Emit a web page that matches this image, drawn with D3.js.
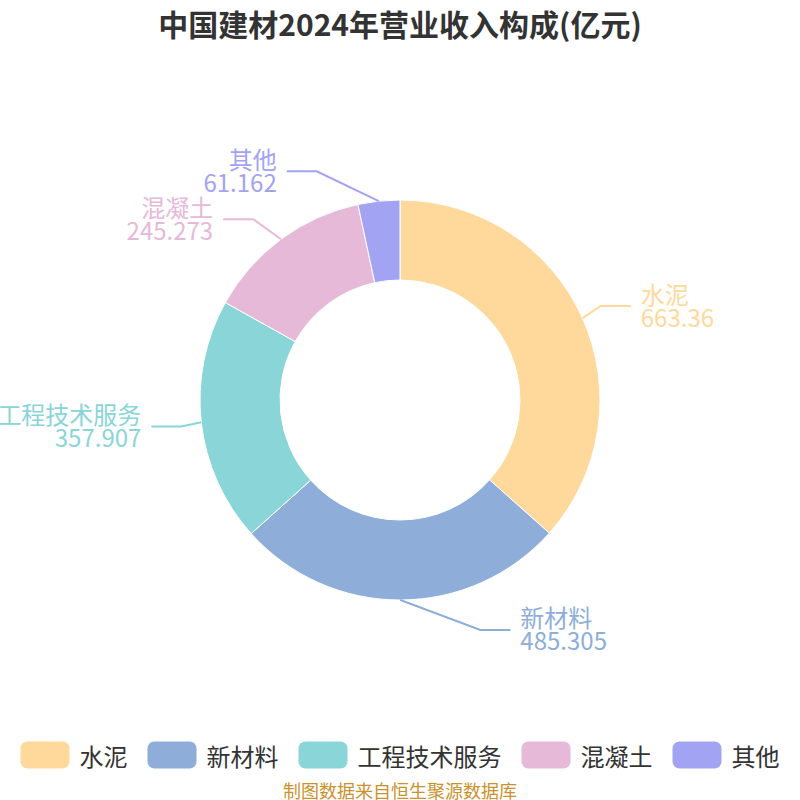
<!DOCTYPE html>
<html lang="zh">
<head>
<meta charset="utf-8">
<style>
  body { margin: 0; background: #fff; }
  svg { font-family: "Noto Sans CJK SC", "Noto Sans", sans-serif; }
  .title { font-size: 30px; font-weight: bold; fill: #333; }
  .legend text { font-size: 24px; fill: #333; }
  .label text { font-size: 24px; }
  .source { font-size: 18px; fill: #c9922c; }
</style>
</head>
<body>
<svg width="800" height="800"></svg>
<script src="https://cdn.jsdelivr.net/npm/d3@7"></script>
<script>
const names = ["水泥", "新材料", "工程技术服务", "混凝土", "其他"]
const values = [663.36, 485.305, 357.907, 245.273, 61.162]
const labels = ["663.36", "485.305", "357.907", "245.273", "61.162"]
const colors = ["#ffd99b", "#8eaed9", "#89d5d8", "#e6b9d8", "#a3a3f4"]
// nudges for the label elbows so they don't collide (px)
const labelShift = [[0, -4], [80, 10], [0, 2], [-16, -4], [-60, -10]]

const width = 800, height = 800
const cx = 400, cy = 400
const outerR = 200, innerR = 120

const svg = d3.select("svg")

svg.append("text")
  .attr("class", "title")
  .attr("x", width / 2)
  .attr("y", 23)
  .attr("text-anchor", "middle")
  .attr("dominant-baseline", "central")
  .text("中国建材2024年营业收入构成(亿元)")

const data = names.map((n, i) => ({ name: n, value: values[i], label: labels[i], color: colors[i], shift: labelShift[i] }))

const pie = d3.pie().sort(null).value(d => d.value)
const arc = d3.arc().innerRadius(innerR).outerRadius(outerR)
const arcs = pie(data)

const g = svg.append("g").attr("transform", `translate(${cx},${cy})`)

g.selectAll("path.slice")
  .data(arcs)
  .join("path")
  .attr("class", "slice")
  .attr("d", arc)
  .attr("fill", d => d.data.color)
  .attr("stroke", "#fff")
  .attr("stroke-width", 1)

// labels with leader lines
const lab = g.selectAll("g.label")
  .data(arcs)
  .join("g")
  .attr("class", "label")

lab.each(function (d) {
  const a = (d.startAngle + d.endAngle) / 2
  const p0 = [outerR * Math.sin(a), -outerR * Math.cos(a)]
  const r1 = outerR + 20
  const p1 = [r1 * Math.sin(a) + d.data.shift[0], -r1 * Math.cos(a) + d.data.shift[1]]
  const side = p1[0] >= 0 ? 1 : -1
  const p2 = [p1[0] + side * 30, p1[1]]
  const sel = d3.select(this)
  sel.append("polyline")
    .attr("points", [p0, p1, p2].map(p => p.join(",")).join(" "))
    .attr("fill", "none")
    .attr("stroke", d.data.color)
    .attr("stroke-width", 2)
  const tx = p2[0] + side * 10
  const anchor = side > 0 ? "start" : "end"
  sel.append("text")
    .attr("x", tx).attr("y", p2[1] - 13)
    .attr("text-anchor", anchor)
    .attr("dominant-baseline", "central")
    .attr("fill", d.data.color)
    .text(d.data.name)
  sel.append("text")
    .attr("x", tx).attr("y", p2[1] + 10)
    .attr("text-anchor", anchor)
    .attr("dominant-baseline", "central")
    .attr("fill", d.data.color)
    .text(d.data.label)
})

// legend
const legend = svg.append("g").attr("class", "legend")
const swW = 49, swH = 27, swGap = 10, itemGap = 20
const items = legend.selectAll("g").data(data).join("g")
items.append("rect")
  .attr("width", swW).attr("height", swH)
  .attr("rx", 7).attr("ry", 7)
  .attr("y", -swH / 2)
  .attr("fill", d => d.color)
items.append("text")
  .attr("x", swW + swGap)
  .attr("dominant-baseline", "central")
  .text(d => d.name)

let widths = []
items.each(function () {
  widths.push(swW + swGap + d3.select(this).select("text").node().getComputedTextLength())
})
const total = d3.sum(widths) + itemGap * (widths.length - 1)
let xPos = (width - total) / 2
items.attr("transform", (d, i) => {
  const t = `translate(${xPos},755)`
  xPos += widths[i] + itemGap
  return t
})

svg.append("text")
  .attr("class", "source")
  .attr("x", width / 2)
  .attr("y", 790)
  .attr("text-anchor", "middle")
  .attr("dominant-baseline", "central")
  .text("制图数据来自恒生聚源数据库")
</script>
</body>
</html>
